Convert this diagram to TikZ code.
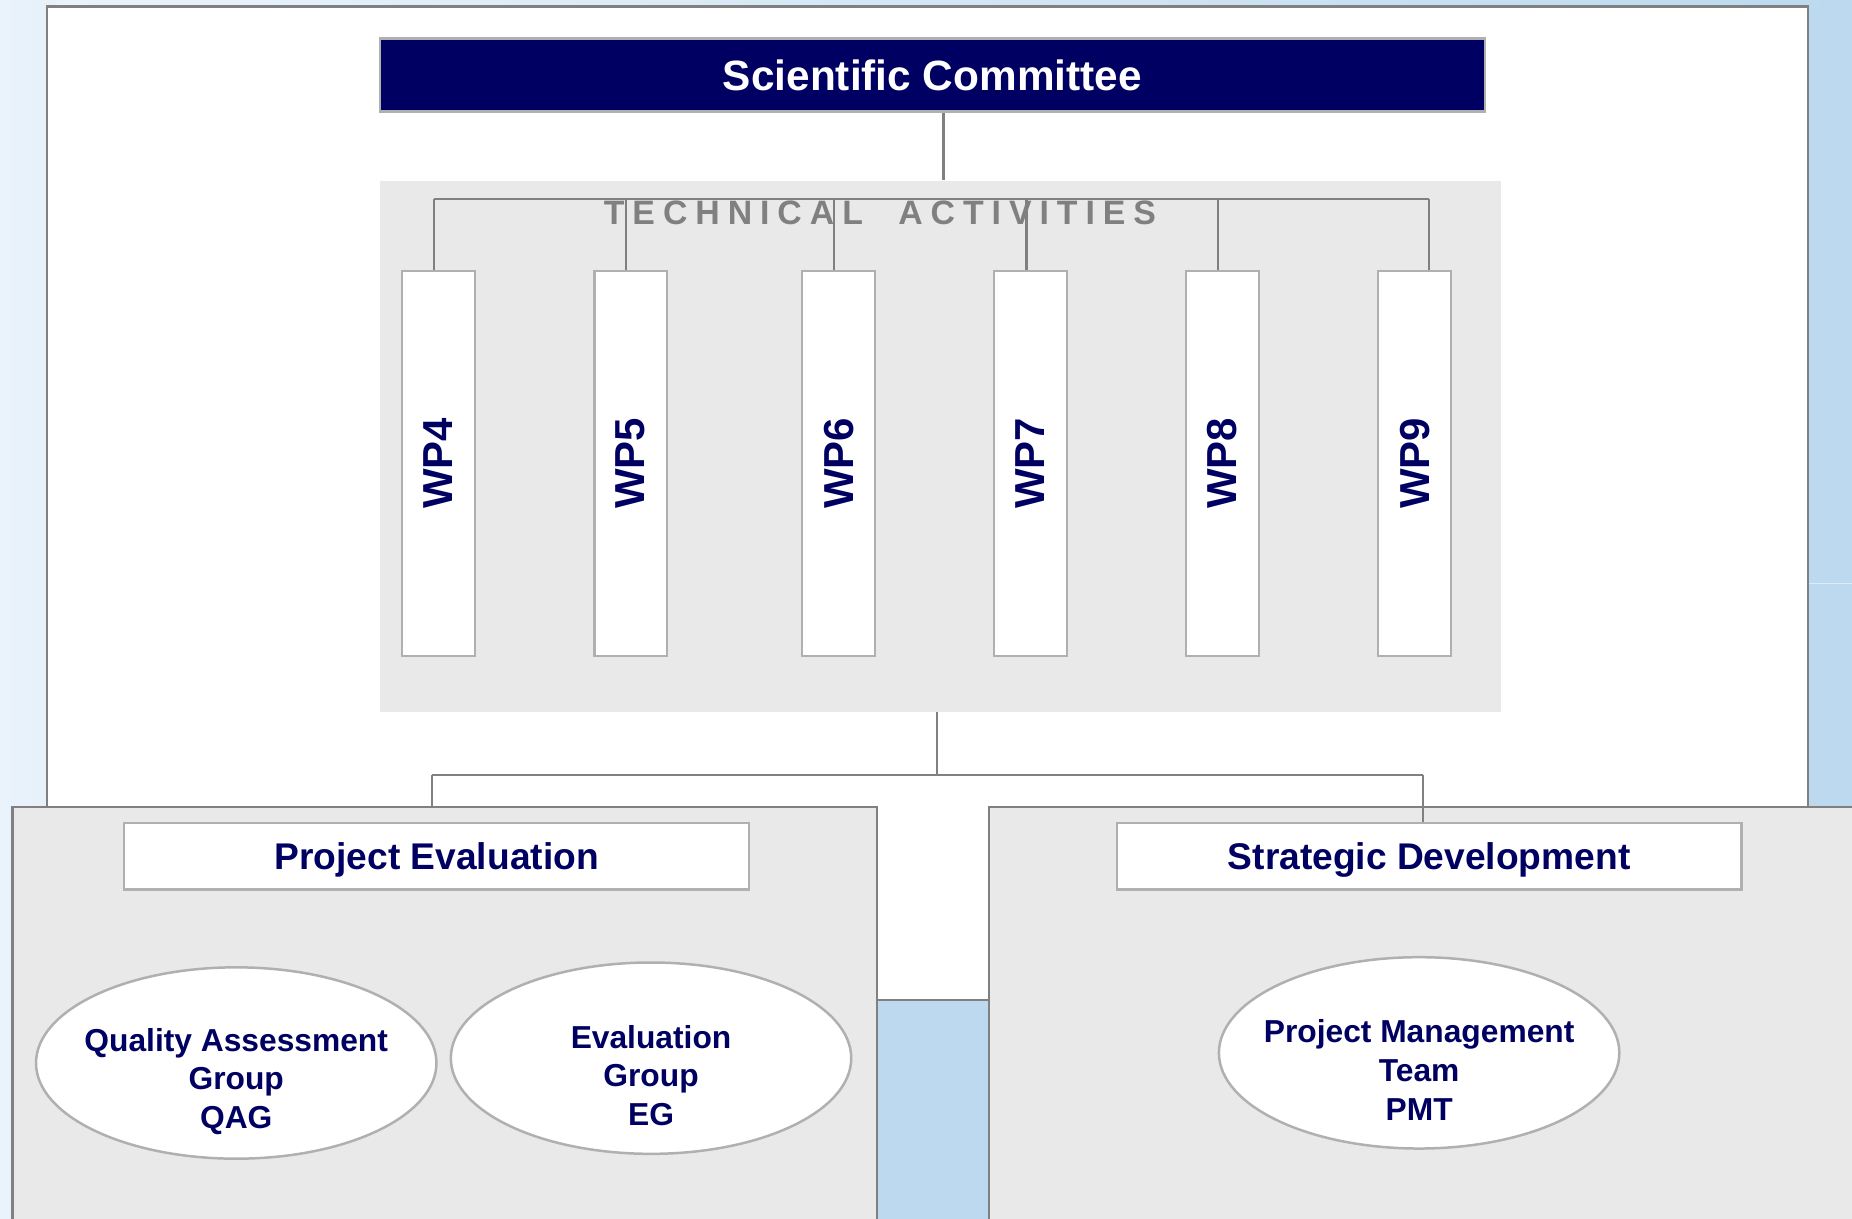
\documentclass[tikz,border=0pt]{standalone}
\usepackage{fontspec}
\setmainfont{Liberation Sans}
\usetikzlibrary{shapes.geometric}
\definecolor{navy}{RGB}{0,0,98}
\definecolor{linegray}{RGB}{128,128,128}
\definecolor{edgegray}{RGB}{176,176,176}
\definecolor{panelgray}{RGB}{233,233,233}
\definecolor{bgblue}{RGB}{188,217,239}
\definecolor{bglight}{RGB}{234,243,251}
\begin{document}
\begin{tikzpicture}[x=0.2mm,y=-0.2mm,
  link/.style={draw=linegray,line width=1.1pt},
  panel/.style={draw=linegray,fill=panelgray,line width=1.1pt},
  title/.style={draw=edgegray,fill=white,line width=1.1pt,minimum width=105.8mm,minimum height=11.2mm,text depth=0pt,text=navy,font=\fontsize{17.9}{20}\selectfont\bfseries},
  wp/.style={draw=edgegray,fill=white,line width=1.1pt,rotate=90,minimum width=65.2mm,minimum height=12.3mm,inner sep=0pt,text=navy,font=\fontsize{20.2}{22}\selectfont\bfseries},
  oval/.style={ellipse,draw=edgegray,fill=white,line width=1.2pt,minimum width=67.8mm,minimum height=32.4mm},
  ovaltext/.style={align=center,text=navy,font=\fontsize{15.3}{18.6}\selectfont\bfseries}]
\useasboundingbox (0,0) rectangle (1568,1032);
\clip (0,0) rectangle (1568,1032);
% slide background
\fill[bgblue] (0,0) rectangle (1568,1032);
\shade[left color=bglight,right color=bglight!90!bgblue] (0,0) rectangle (48,1032);
\shade[left color=bglight,right color=bgblue] (48,0) rectangle (1568,8);
\draw[white!50!bgblue,line width=0.6pt] (1530,494) -- (1568,494);
\draw[link,fill=white] (39.5,5.6) rectangle (1530.8,846.4);
% committee and technical activities
\node[draw=edgegray,fill=navy,line width=1.1pt,minimum width=187.1mm,minimum height=12.4mm,text depth=0pt,text=white,font=\fontsize{20.4}{22}\selectfont\bfseries] (sc) at (789.4,63.5) {Scientific Committee};
\node[fill=panelgray,minimum width=189.9mm,minimum height=89.9mm,inner sep=0pt] (ta) at (796.3,377.9) {};
\coordinate (scfoot) at ([xshift=1.9mm]sc.south);
\draw[link] (scfoot) -- (scfoot |- ta.north);
\node[text=linegray,font=\fontsize{16.3}{18}\selectfont\bfseries\addfontfeature{LetterSpace=23.5}] (talabel) at (745,180) {TECHNICAL\hspace{6mm}ACTIVITIES};
\coordinate (bar) at (367.5,168.5);
\foreach \n/\x in {4/371.3,5/534,6/710,7/872.5,8/1035,9/1197.7}
  \node[wp] (wp\n) at (\x,392.3) {WP\n};
\foreach \n/\d in {4/-0.76,5/-0.8,6/-0.8,7/-0.7,8/-0.8,9/2.46}
  \draw[link] ([xshift=\d mm]wp\n.east) coordinate (c\n) -- (c\n |- bar);
\draw[link] (c4 |- bar) -- (c9 |- bar);
% evaluation and development
\coordinate (fork) at (793.3,656.2);
\coordinate (lpanel) at (10.7,683.4);
\draw[panel] (lpanel) rectangle (742.8,1045);
\draw[panel] (837.1,683.4) rectangle (1580,1045);
\node[title] (pe) at (369.75,725) {Project Evaluation};
\node[title] (sd) at (1210,725) {Strategic Development};
\coordinate (pefoot) at ([xshift=-0.8mm]pe.north);
\coordinate (sdfoot) at ([xshift=-1mm]sd.north);
\draw[link] (ta.south -| fork) -- (fork);
\draw[link] (pefoot |- fork) -- (sdfoot |- fork);
\draw[link] (pefoot |- fork) -- (pefoot |- lpanel);
\draw[link] (sdfoot |- fork) -- (sdfoot);
\node[oval] (qag) at (200,900) {};
\node[oval] (eg) at (551.2,895.9) {};
\node[oval] (pmt) at (1201.5,891.4) {};
\node[ovaltext] (qagtext) at ([yshift=-3.1mm]qag.center) {Quality Assessment\\Group\\QAG};
\node[ovaltext] (egtext) at ([yshift=-2.9mm]eg.center) {Evaluation\\Group\\EG};
\node[ovaltext] (pmttext) at ([yshift=-2.9mm]pmt.center) {Project Management\\Team\\PMT};
\end{tikzpicture}
\end{document}
